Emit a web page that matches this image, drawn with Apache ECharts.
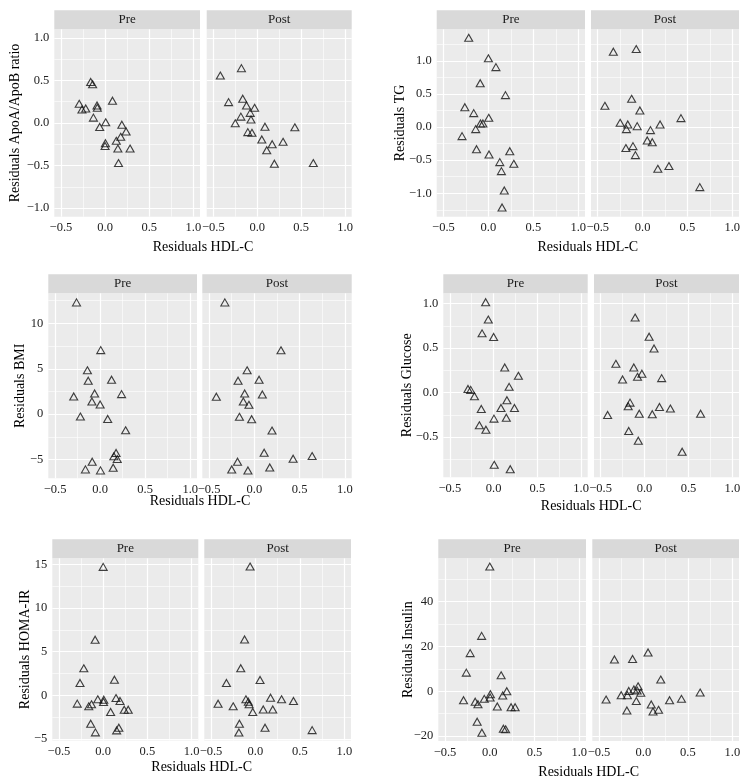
<!DOCTYPE html>
<html><head><meta charset="utf-8">
<script src="https://cdn.jsdelivr.net/npm/echarts@6/dist/echarts.min.js"></script>
<style>html,body{margin:0;padding:0;background:#fff}#c{width:749px;height:782px}</style>
</head><body><div id="c"></div>
<script>
// Shared x values (Residuals HDL-C), same subjects in every panel
const preX  = [-0.293,-0.262,-0.219,-0.163,-0.141,-0.132,-0.091,-0.088,-0.061,0.0,0.004,0.007,0.084,0.127,0.145,0.152,0.177,0.19,0.238,0.283];
const postX = [-0.42,-0.326,-0.25,-0.186,-0.18,-0.165,-0.122,-0.107,-0.08,-0.071,-0.06,-0.03,0.052,0.088,0.108,0.17,0.195,0.294,0.428,0.638];

const apoPre  = [0.225,0.158,0.170,0.482,0.455,0.063,0.206,0.178,-0.047,-0.269,-0.237,0.008,0.261,-0.209,-0.300,-0.470,-0.162,-0.020,-0.099,-0.300];
const apoPost = [0.557,0.245,-0.004,0.075,0.644,0.285,0.206,-0.107,0.119,0.040,-0.115,0.178,-0.194,-0.043,-0.320,-0.249,-0.478,-0.221,-0.051,-0.470];
const tgPre   = [-0.136,0.302,1.35,0.212,-0.030,-0.333,0.665,0.055,0.055,1.04,0.141,-0.413,0.907,-0.529,-0.665,-1.214,-0.957,0.484,-0.363,-0.554];
const tgPost  = [0.322,1.14,0.065,-0.317,-0.030,0.040,0.428,-0.287,-0.423,1.18,0.015,0.252,-0.202,-0.045,-0.227,-0.630,0.040,-0.589,0.136,-0.907];
const bmiPre  = [1.95,12.3,-0.26,-6.07,4.83,3.69,1.40,-5.22,2.28,1.07,-6.18,7.05,-0.52,3.80,-5.88,-4.63,-4.26,-4.93,2.21,-1.77];
const bmiPost = [1.92,12.3,-6.08,-5.23,3.68,-0.29,1.40,2.28,4.83,-6.19,1.03,-0.55,3.79,2.17,-4.24,-5.86,-1.80,7.03,-4.90,-4.60];
const gluPre  = [0.041,0.030,-0.041,-0.368,-0.184,0.665,1.015,-0.417,0.82,0.624,-0.293,-0.812,-0.173,0.282,-0.282,-0.086,0.064,-0.861,-0.173,0.188];
const gluPost = [-0.252,0.323,0.147,-0.154,-0.432,-0.113,0.282,0.842,0.177,-0.541,-0.237,0.211,0.628,-0.244,0.496,-0.162,0.162,-0.180,-0.665,-0.237];
const homaPre = [-0.95,1.41,3.09,-1.26,-3.24,-1.03,6.37,-4.24,-0.46,14.7,-0.76,-0.50,-1.91,1.79,-0.31,-4.01,-3.70,-0.65,-1.64,-1.64];
const homaPost= [-0.96,1.42,-1.26,-4.25,-3.25,3.10,6.39,-0.46,-0.73,-1.03,14.73,-1.91,1.76,-1.61,-3.71,-0.27,-1.61,-0.46,-0.65,-3.98];
const insPre  = [-4.0,8.3,17.0,-4.7,-13.6,-5.8,24.7,-18.5,-3.4,55.6,-2.8,-1.3,-6.8,7.1,-1.9,-16.7,-17.0,0.0,-7.1,-7.1];
const insPost = [-3.7,14.2,-1.8,-8.6,-1.8,0.1,14.4,0.8,-4.4,0.3,2.2,-0.7,17.3,-5.9,-9.0,-8.3,5.2,-4.0,-3.4,-0.6];

// Tick values
const xTicks = [-0.5,0,0.5,1];
const xMinor = [-0.25,0.25,0.75];
const xRange = [-0.575,1.075];
const ratioTicks = [-1,-0.5,0,0.5,1];
const ratioMinor = [-1.25,-0.75,-0.25,0.25,0.75,1.25];
const bmiTicks = [-5,0,5,10];
const bmiMinor = [-2.5,2.5,7.5,12.5];
const gluTicks = [-0.5,0,0.5,1];
const gluMinor = [-0.75,-0.25,0.25,0.75];
const homaTicks = [-5,0,5,10,15];
const homaMinor = [-2.5,2.5,7.5,12.5];
const insTicks = [-20,0,20,40];
const insMinor = [-10,10,30,50];

const facetNames = ['Pre','Post'];
const xTitle = 'Residuals HDL-C';

const panels = [
  {yTitle:'Residuals ApoA/ApoB ratio', pre:apoPre, post:apoPost, ticks:ratioTicks, minor:ratioMinor, dec:1, yr:[-1.1,1.1],
   L:{preL:54.3, postL:206.7, preW:145.7, postW:145, top:29.3, h:187.4, ytX:15, xtY:247}},
  {yTitle:'Residuals TG', pre:tgPre, post:tgPost, ticks:ratioTicks, minor:ratioMinor, dec:1, yr:[-1.354,1.479],
   L:{preL:436.7, postL:591, preW:148.3, postW:148, top:29.3, h:187.4, ytX:400, xtY:247}},
  {yTitle:'Residuals BMI', pre:bmiPre, post:bmiPost, ticks:bmiTicks, minor:bmiMinor, dec:0, yr:[-7.05,13.3],
   L:{preL:48.3, postL:202.3, preW:148.7, postW:149.4, top:293.3, h:185, ytX:20, xtY:501}},
  {yTitle:'Residuals Glucose', pre:gluPre, post:gluPost, ticks:gluTicks, minor:gluMinor, dec:1, yr:[-0.952,1.115],
   L:{preL:443.3, postL:594, preW:144.4, postW:145, top:293.3, h:184, ytX:407, xtY:506}},
  {yTitle:'Residuals HOMA-IR', pre:homaPre, post:homaPost, ticks:homaTicks, minor:homaMinor, dec:0, yr:[-5.18,15.68],
   L:{preL:52.3, postL:204.3, preW:146, postW:146.7, top:558.3, h:182.3, ytX:25, xtY:767}},
  {yTitle:'Residuals Insulin', pre:insPre, post:insPost, ticks:insTicks, minor:insMinor, dec:0, yr:[-22.2,59.3],
   L:{preL:438.3, postL:592.3, preW:147.7, postW:146.7, top:558.3, h:182.7, ytX:408, xtY:772}}
];

const FONT = 'Liberation Serif';
const fmt = d => v => (v < 0 ? '\u2212' : '') + Math.abs(v).toFixed(d);

const grid = [], xAxis = [], yAxis = [], series = [], graphic = [];
const STRIP = 19;

panels.forEach((p, pi) => {
  const L = p.L;
  [0,1].forEach(f => {
    const gi = pi*2 + f;
    const left = f === 0 ? L.preL : L.postL;
    const width = f === 0 ? L.preW : L.postW;
    grid.push({left:left, top:L.top, width:width, height:L.h, show:true, backgroundColor:'#EBEBEB', borderWidth:0});
    xAxis.push({gridIndex:gi, type:'value', min:xRange[0], max:xRange[1],
      axisLine:{show:false},
      axisTick:{show:true, customValues:xTicks, length:3, lineStyle:{color:'#333', width:1}},
      axisLabel:{customValues:xTicks, formatter:fmt(1), margin:5, color:'#222', fontFamily:FONT, fontSize:12.5},
      splitLine:{show:false}});
    yAxis.push({gridIndex:gi, type:'value', min:p.yr[0], max:p.yr[1],
      axisLine:{show:false},
      axisTick:{show:f===0, customValues:p.ticks, length:3, lineStyle:{color:'#333', width:1}},
      axisLabel:{show:f===0, customValues:p.ticks, formatter:fmt(p.dec), margin:5, color:'#222', fontFamily:FONT, fontSize:12.5},
      splitLine:{show:false}});
    const ys = f === 0 ? p.pre : p.post;
    const xs = f === 0 ? preX : postX;
    const lines = [];
    xMinor.forEach(v => lines.push({xAxis:v, lineStyle:{width:0.6}}));
    p.minor.filter(v => v > p.yr[0] && v < p.yr[1]).forEach(v => lines.push({yAxis:v, lineStyle:{width:0.6}}));
    xTicks.forEach(v => lines.push({xAxis:v, lineStyle:{width:1.2}}));
    p.ticks.forEach(v => lines.push({yAxis:v, lineStyle:{width:1.2}}));
    series.push({type:'scatter', xAxisIndex:gi, yAxisIndex:gi, z:3,
      data: xs.map((x, i) => [x, ys[i]]),
      symbol:'triangle', symbolSize:[8,7],
      itemStyle:{color:'rgba(0,0,0,0)', borderColor:'#111', borderWidth:1.1},
      silent:true,
      markLine:{z:1, silent:true, symbol:['none','none'], label:{show:false}, animation:false,
        lineStyle:{color:'#FFFFFF', type:'solid'}, emphasis:{disabled:true}, data:lines}
    });
    // facet strip
    graphic.push({type:'rect', shape:{x:left, y:L.top-STRIP, width:width, height:STRIP}, style:{fill:'#D9D9D9'}, silent:true});
    graphic.push({type:'text', x:left+width/2, y:L.top-STRIP/2, silent:true,
      style:{text:facetNames[f], fill:'#1a1a1a', font:'13px "'+FONT+'"', textAlign:'center', textVerticalAlign:'middle'}});
  });
  // x title
  const cx = (L.preL + L.postL + L.postW) / 2;
  graphic.push({type:'text', x:cx, y:L.xtY, silent:true,
    style:{text:xTitle, fill:'#000', font:'14px "'+FONT+'"', textAlign:'center', textVerticalAlign:'middle'}});
  // y title
  graphic.push({type:'text', x:L.ytX, y:L.top + L.h/2, rotation:Math.PI/2, silent:true,
    style:{text:p.yTitle, fill:'#000', font:'14px "'+FONT+'"', textAlign:'center', textVerticalAlign:'middle'}});
});

const chart = echarts.init(document.getElementById('c'), null, {renderer:'canvas'});
chart.setOption({animation:false, grid, xAxis, yAxis, series, graphic});
</script></body></html>
